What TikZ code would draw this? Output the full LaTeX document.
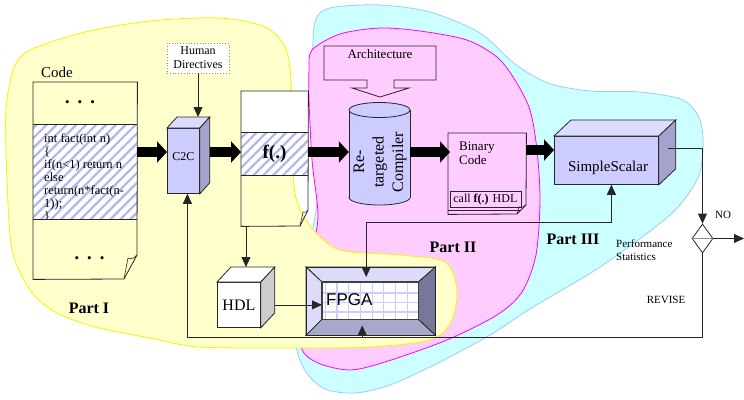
\documentclass[tikz,border=0pt]{standalone}
\usepackage{fontspec}
\setmainfont{Liberation Serif}
\newfontfamily\arialfont{Liberation Sans}
\usetikzlibrary{arrows.meta,patterns.meta,shapes.geometric,calc}

\definecolor{yfill}{HTML}{FFFFCC}
\definecolor{yedge}{HTML}{F4F400}
\definecolor{pfill}{HTML}{FFCCFF}
\definecolor{pedge}{HTML}{FF00FF}
\definecolor{cfill}{HTML}{CCFFFF}
\definecolor{cedge}{HTML}{99CCFF}
\definecolor{lav}{HTML}{CCCCFF}
\definecolor{lavtop}{HTML}{DCDCFF}
\definecolor{lavside}{HTML}{A3A3CC}
\definecolor{hatch}{HTML}{B2B6EE}
\definecolor{bevlight}{HTML}{DCDCFA}
\definecolor{bevdark}{HTML}{77779A}
\definecolor{bevmid}{HTML}{A8A8CC}
\definecolor{gridc}{HTML}{CCCCFF}
\definecolor{cubeside}{HTML}{CCCCCC}

\newcommand\fsz[2]{\fontsize{#1pt}{#2pt}\selectfont}

% top and side faces of a box whose front face is node #1
\newcommand\cubefaces[5]{%
  \draw[boxline,fill=#4] (#1.north west) -- ++(#2,-#3) -- ($(#1.north east)+(#2,-#3)$) -- (#1.north east) -- cycle;
  \draw[boxline,fill=#5] (#1.north east) -- ++(#2,-#3) -- ($(#1.south east)+(#2,-#3)$) -- (#1.south east) -- cycle;}

\tikzset{
  boxline/.style={draw=black!85, line width=0.8pt},
  frontface/.style={boxline, anchor=north west, inner sep=0pt},
  bigarrow/.style={draw=black, line width=10pt, -{Triangle[width=21pt,length=10pt]}},
  conn/.style={draw=black!85, line width=0.8pt, -{Triangle[width=9pt,length=10pt]}},
  plain/.style={draw=black!85, line width=0.8pt},
  stripes/.style={pattern={Lines[angle=45,distance=7pt,line width=2.2pt]}, pattern color=hatch},
  lbl/.style={inner sep=0pt},
  partlbl/.style={inner sep=0pt, font=\fsz{16}{18}\bfseries},
}

\begin{document}
\begin{tikzpicture}[x=1pt,y=-1pt]
\useasboundingbox (0,0) rectangle (744,399);

% ---------- the three parts ----------
\draw[cedge, fill=cfill, line width=0.8pt] plot[smooth cycle] coordinates {
 (313,40) (318,15) (335,7) (380,5) (430,12) (480,33) (515,64) (548,83) (590,91)
 (640,92) (683,100) (700,120) (703,150) (697,180) (670,215) (600,267) (533,307)
 (490,335) (440,362) (390,385) (355,393) (325,389) (306,372) (296,345) (298,300)
 (308,250) (317,200) (314,120)};
\draw[pedge, fill=pfill, line width=0.8pt] plot[smooth cycle] coordinates {
 (312,50) (340,34) (380,28) (420,31) (467,40) (497,57) (515,80) (530,110) (537,150)
 (540,200) (536,255) (522,292) (497,315) (447,340) (385,362) (350,370) (318,363)
 (301,347) (300,300) (312,250) (318,215) (312,160) (309,100) (309,70)};
\draw[yedge, fill=yfill, line width=0.8pt] plot[smooth cycle] coordinates {
 (30,50) (85,32) (150,21) (220,18) (265,27) (285,47) (291,80) (292,150) (296,198)
 (312,228) (340,250) (400,255) (445,262) (457,290) (451,322) (430,340) (370,347)
 (300,348) (200,347) (150,338) (95,327) (55,312) (30,290) (12,250) (7,180) (6,110)
 (14,68)};

\coordinate (row) at (0,152);
\coordinate (feedrow) at (0,222);
\coordinate (botrow) at (0,337);

% ---------- source code document ----------
\node[lbl, font=\fsz{15}{17}] (codelabel) at (57,72) {Code};
\node[inner sep=0pt, minimum width=104pt, minimum height=197pt, anchor=north west] (code) at (33,82) {};
\fill[white] (33,124) rectangle (137,219);
\fill[stripes] (33,124) rectangle (137,219);
\begin{scope}
  \clip (33,124) rectangle (137,219);
  \node[lbl, anchor=north west, align=left, font=\fsz{12.5}{13}] (codetext) at (44,133)
    {int fact(int n)\\\{\\if(n<1) return n\\else\\return(n*fact(n-\\1));\\\}};
\end{scope}
\draw[plain] (code.north west) -- (code.north east) -- (137,255) -- (124,279) -- (code.south west) -- cycle;
\draw[plain] (33,124) -- (137,124) (33,219) -- (137,219);
\draw[plain, line width=0.6pt] (124,279) -- (128,258) .. controls (131,260) and (134,258) .. (137,255);
\node[lbl, font=\fsz{13}{13}] (dotstop) at (80,104) {•\hspace{8pt}•\hspace{8pt}•};
\node[lbl, font=\fsz{13}{13}] (dotsbot) at (89.5,260) {•\hspace{8pt}•\hspace{8pt}•};

% ---------- C2C ----------
\node[draw=black!45, dotted, line width=0.8pt, fill=white, minimum width=62pt, minimum height=30pt,
      inner sep=0pt, align=center, font=\fsz{12}{14}] (hd) at (198,58) {Human\\Directives};
\node[frontface, fill=lav, minimum width=32pt, minimum height=65pt] (c2c) at (167,128) {};
\cubefaces{c2c}{10}{11}{lavtop}{lavside}
\node[lbl, font=\fsz{12}{12}] (c2ctext) at ($(c2c.center)+(0,-4)$) {C2C};
\coordinate (c2cback) at ($(c2c.north)+(0,-11)$);
\coordinate (c2cin) at ([xshift=4pt]c2c.south);

% ---------- f(.) document ----------
\node[inner sep=0pt, minimum width=67pt, minimum height=135pt, anchor=north west] (fbox) at (241,91) {};
\fill[white] (241,91) rectangle (308,175);
\fill[stripes] (241,132) rectangle (308,175);
\draw[plain] (fbox.north west) -- (fbox.north east) -- (308,210) -- (300,226) -- (fbox.south west) -- cycle;
\draw[plain] (241,132) -- (308,132) (241,175) -- (308,175);
\draw[plain, line width=0.6pt] (300,226) -- (303,212) .. controls (305,213) and (307,212) .. (308,210);
\node[lbl, font=\fsz{19}{19}\bfseries] (ftext) at (274.5,154) {f(.)};

% ---------- architecture callout ----------
\draw[plain, fill=pfill] (324,46) -- (436,46) -- (436,80) -- (394,80) -- (394,88) -- (409,88)
  -- (380,97) -- (352,88) -- (367,88) -- (367,80) -- (324,80) -- cycle;
\node[lbl, font=\fsz{13}{13}] (arch) at (380,54) {Architecture};

% ---------- retargeted compiler ----------
\draw[boxline, fill=lav] (379.5,197.5) ellipse [x radius=30.5pt, y radius=7.5pt];
\fill[lav] (349,110) rectangle (410,197.5);
\draw[plain] (349,110) -- (349,197.5) (410,110) -- (410,197.5);
\draw[boxline, fill=lav] (379.5,110) ellipse [x radius=30.5pt, y radius=7.5pt];
\node[inner sep=0pt, minimum width=61pt, minimum height=95pt] (comp) at (379.5,155) {};
\node[lbl, rotate=90, align=center, font=\fsz{16}{19.5}] (comptext) at (380,162) {Re-\\targeted\\Compiler};

% ---------- binary code ----------
\node[inner sep=0pt, minimum width=78pt, minimum height=81pt, anchor=north west] (bin) at (448,133) {};
\draw[plain] (bin.north west) -- (bin.north east) -- (526,205) -- (517,214) -- (bin.south west) -- cycle;
\draw[plain, line width=0.6pt] (517,214) -- (519,207) .. controls (521,208) and (524,207) .. (526,205);
\node[lbl, anchor=north west, align=left, font=\fsz{13}{14}] (bintext) at (459,142) {Binary\\Code};
\node[draw=black!85, line width=0.8pt, anchor=north west, minimum width=71pt, minimum height=16pt,
      inner sep=0pt, font=\fsz{12}{12}] (callbox) at (449.5,191) {call \textbf{f(.)} HDL};
\draw[plain] (448,210) -- (520,210);

% ---------- SimpleScalar ----------
\node[frontface, fill=lav, minimum width=104pt, minimum height=48pt] (ss) at (554,136) {};
\cubefaces{ss}{17}{16}{lavtop}{lavside}
\node[lbl, font=\fsz{15}{15}] (sstext) at (608,168) {SimpleScalar};
\coordinate (ssout) at ($(ss.east)+(9,-12)$);
\coordinate (ssin) at ([xshift=5pt]ss.south);

% ---------- HDL ----------
\node[frontface, fill=white, minimum width=43pt, minimum height=45pt, font=\fsz{16}{16}] (hdl) at (217,282) {HDL};
\cubefaces{hdl}{14}{15}{white}{cubeside}
\coordinate (hdltop) at ($(hdl.north west)+(14,-15)$);
\coordinate (hdlout) at ($(hdl.east)+(14,0)$);

% ---------- FPGA ----------
\node[inner sep=0pt, minimum width=129pt, minimum height=68pt, anchor=north west] (fpga) at (306,267) {};
\node[inner sep=0pt, minimum width=96pt, minimum height=37pt, anchor=north west] (fpgacore) at (322,282) {};
\filldraw[boxline, fill=bevlight] (fpga.north west) -- (fpga.north east) -- (fpgacore.north east) -- (fpgacore.north west) -- cycle;
\filldraw[boxline, fill=bevlight] (fpga.north west) -- (fpgacore.north west) -- (fpgacore.south west) -- (fpga.south west) -- cycle;
\filldraw[boxline, fill=bevdark] (fpga.north east) -- (fpgacore.north east) -- (fpgacore.south east) -- (fpga.south east) -- cycle;
\filldraw[boxline, fill=bevmid] (fpga.south west) -- (fpgacore.south west) -- (fpgacore.south east) -- (fpga.south east) -- cycle;
\fill[white] (fpgacore.north west) rectangle (fpgacore.south east);
\begin{scope}
  \clip (fpgacore.north west) rectangle (fpgacore.south east);
  \foreach \gx in {325.3,337,348.7,360.4,372.1,383.8,395.5,407.2} \draw[gridc, line width=1.2pt] (\gx,282) -- (\gx,319);
  \foreach \gy in {293,302.5,312} \draw[gridc, line width=1.2pt] (322,\gy) -- (418,\gy);
\end{scope}
\draw[draw=black!75, line width=1.6pt] (fpgacore.north west) rectangle (fpgacore.south east);
\draw[boxline] (fpga.north west) rectangle (fpga.south east);
\node[lbl, anchor=west, font=\arialfont\fsz{17}{17}] (fpgatext) at (326,300) {FPGA};
\coordinate (fpgatop) at ($(fpga.north)+(-4.5,10)$);
\coordinate (fpgabot) at ($(fpga.south)+(-8.5,-10)$);

% ---------- decision ----------
\node[diamond, draw=black!85, line width=0.8pt, minimum width=21pt, minimum height=29pt, inner sep=0pt] (dec) at (702.5,238.5) {};
\draw[black!45, line width=0.8pt] (dec.west) -- (dec.east);
\coordinate (exit) at (744,238.5);

% ---------- thick data-flow arrows ----------
\draw[bigarrow] (code.east |- row) -- (c2c.west |- row);
\draw[bigarrow] ($(c2c.east |- row)+(10,0)$) -- (fbox.west |- row);
\draw[bigarrow] (fbox.east |- row) -- (comp.west |- row);
\draw[bigarrow] (comp.east |- row) -- ($(bin.west |- row)+(2,0)$);
\draw[bigarrow] ($(bin.east |- row)+(0,-2)$) -- ($(ss.west |- row)+(0,-2)$);

% ---------- connectors ----------
\draw[conn] (hd.south) -- (hd.south |- c2cback);
\draw[conn] ([xshift=5pt]fbox.south west) -- ([xshift=5pt]fbox.south west |- hdltop);
\draw[conn] (hdlout) -- (fpgacore.west |- hdlout);
\draw[conn, {Triangle[width=9pt,length=10pt]}-{Triangle[width=9pt,length=10pt]}]
  (fpgatop) -- (fpgatop |- feedrow) -- (ssin |- feedrow) -- (ssin);
\draw[conn] (ssout) -| (dec.north);
\draw[conn] (dec.east) -- (exit);
\draw[conn] (dec.south) -- (dec.south |- botrow) -- (c2cin |- botrow) -- (c2cin);
\draw[conn] (fpgabot |- botrow) -- (fpgabot);

% ---------- labels ----------
\node[lbl, font=\fsz{11}{11}] (nolbl) at (723,215) {NO};
\node[lbl, font=\fsz{11}{11}] (revlbl) at (666,300) {REVISE};
\node[lbl, anchor=west, align=left, font=\fsz{11}{13}] (perflbl) at (616,250) {Performance\\Statistics};
\node[partlbl] (p1) at (89,308) {Part I};
\node[partlbl] (p2) at (453,247) {Part II};
\node[partlbl] (p3) at (573,239) {Part III};
\end{tikzpicture}
\end{document}
